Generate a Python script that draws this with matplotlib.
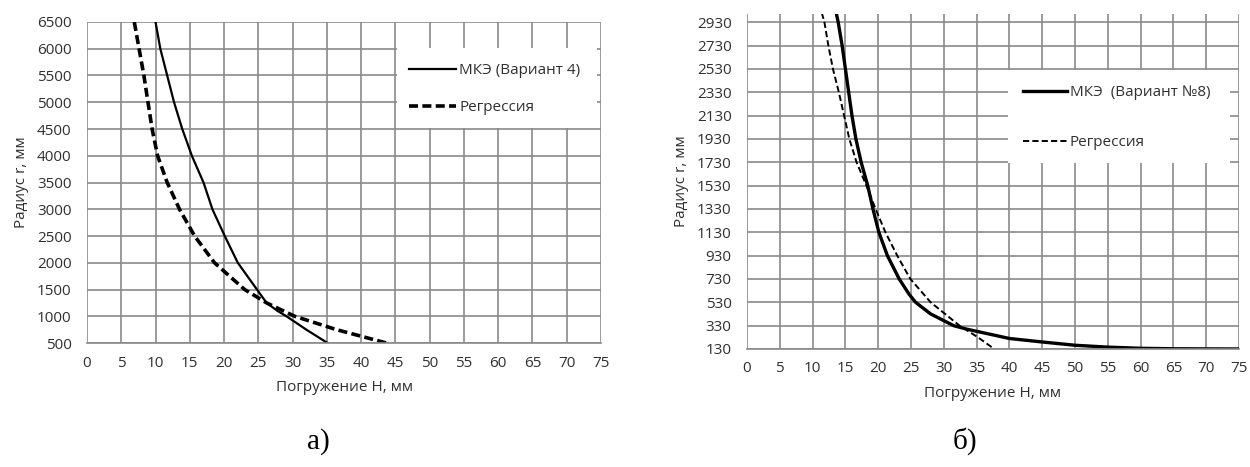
import matplotlib.pyplot as plt
from matplotlib.patches import Rectangle

plt.rcParams['font.family'] = ['Open Sans', 'DejaVu Sans']

# ---- chart a) : Вариант 4
a_fem_h = [10.0, 10.7, 11.7, 12.7, 13.9, 15.3, 17.0, 18.3, 20.1, 22.0, 23.4, 24.8, 26.2,
           27.8, 29.1, 32.0, 35.1]
a_fem_r = [6500, 6000, 5500, 5000, 4500, 4000, 3500, 3000, 2500, 2000, 1750, 1500, 1250,
           1100, 1000, 750, 500]
a_reg_h = [6.9, 7.6, 8.3, 8.9, 9.5, 10.3, 11.7, 13.5, 15.7, 18.6, 23.0, 26.2, 30.3, 36.4, 43.7]
a_reg_r = [6500, 6000, 5500, 5000, 4500, 4000, 3500, 3000, 2500, 2000, 1500, 1250, 1000, 750, 500]

# ---- chart б) : Вариант №8
b_fem_h = [13.6, 13.9, 14.5, 15.0, 15.5, 16.0, 16.6, 17.4, 18.4, 19.2, 20.1, 21.4, 23.2,
           24.7, 25.7, 28.0, 31.5, 33.5, 40.0, 45.0, 50.0, 55.0, 60.0, 65.0, 75.0]
b_fem_r = [3010, 2930, 2730, 2530, 2330, 2130, 1930, 1730, 1530, 1330, 1130, 930, 730,
           600, 530, 430, 330, 300, 220, 190, 162, 146, 136, 132, 130]
b_reg_h = [11.4, 11.8, 12.4, 13.1, 14.0, 14.8, 15.6, 16.7, 18.2, 19.6, 21.1, 22.9, 24.9,
           28.0, 32.4, 35.2, 37.7]
b_reg_r = [3010, 2930, 2730, 2530, 2330, 2130, 1930, 1730, 1530, 1330, 1130, 930, 730,
           530, 330, 230, 130]

x_ticks = list(range(0, 80, 5))
a_y_ticks = list(range(500, 7000, 500))
b_y_ticks = list(range(130, 3000, 200))

grid_col = '#8a8a8a'
text_col = '#303030'

fig = plt.figure(figsize=(12.5, 4.67), dpi=100)


def setup(ax, yticks, ylim):
    ax.set_xlim(0, 75)
    ax.set_ylim(*ylim)
    ax.set_xticks(x_ticks)
    ax.set_yticks(yticks)
    ax.grid(True, color=grid_col, lw=1.2)
    ax.set_axisbelow(True)
    for s in ['top', 'right', 'left']:
        ax.spines[s].set_visible(False)
    ax.spines['bottom'].set_color(grid_col)
    ax.spines['bottom'].set_linewidth(1.2)
    ax.tick_params(length=0, labelsize=11, colors=text_col)
    ax.tick_params(axis='y', pad=11)
    ax.tick_params(axis='x', pad=9)
    ax.set_xlabel('Погружение Н, мм', fontsize=11, color=text_col, labelpad=7)
    ax.set_ylabel('Радиус r, мм', fontsize=11, color=text_col, labelpad=6)


###############################################################
# a)
ax1 = fig.add_axes([0.0696, 0.2655, 0.4112, 0.6874])
setup(ax1, a_y_ticks, (500, 6500))
ax1.plot(a_fem_h, a_fem_r, color='black', lw=1.6, label='МКЭ (Вариант 4)')
ax1.plot(a_reg_h, a_reg_r, color='black', lw=2.6, dashes=(2.5, 1.2), label='Регрессия')
ax1.add_patch(Rectangle((0.603, 0.670), 0.389, 0.249, transform=ax1.transAxes,
                        facecolor='white', edgecolor='none', zorder=3))
leg1 = ax1.legend(loc='center left', bbox_to_anchor=(0.626, 0.791), frameon=False,
                  borderpad=0, borderaxespad=0, handlelength=3.1, handletextpad=0.2,
                  labelspacing=1.45, fontsize=11)
leg1.set_zorder(4)
for t in leg1.get_texts():
    t.set_color(text_col)

###############################################################
# б)
ax2 = fig.add_axes([0.5976, 0.2527, 0.3936, 0.7173])
setup(ax2, b_y_ticks, (130, 3000))
ax2.plot(b_fem_h, b_fem_r, color='black', lw=2.4, label='МКЭ  (Вариант №8)')
ax2.plot(b_reg_h, b_reg_r, color='black', lw=1.4, dashes=(3.2, 1.6), label='Регрессия')
ax2.add_patch(Rectangle((0.530, 0.555), 0.452, 0.278, transform=ax2.transAxes,
                        facecolor='white', edgecolor='none', zorder=3))
leg2 = ax2.legend(loc='center left', bbox_to_anchor=(0.561, 0.691), frameon=False,
                  borderpad=0, borderaxespad=0, handlelength=2.9, handletextpad=0.15,
                  labelspacing=2.3, fontsize=11)
leg2.set_zorder(4)
for t in leg2.get_texts():
    t.set_color(text_col)

# captions
fig.text(0.2544, 0.055, 'а)', fontsize=21, family='Liberation Serif', ha='center', va='center')
fig.text(0.772, 0.055, 'б)', fontsize=21, family='Liberation Serif', ha='center', va='center')

fig.savefig('out.png', dpi=100)
